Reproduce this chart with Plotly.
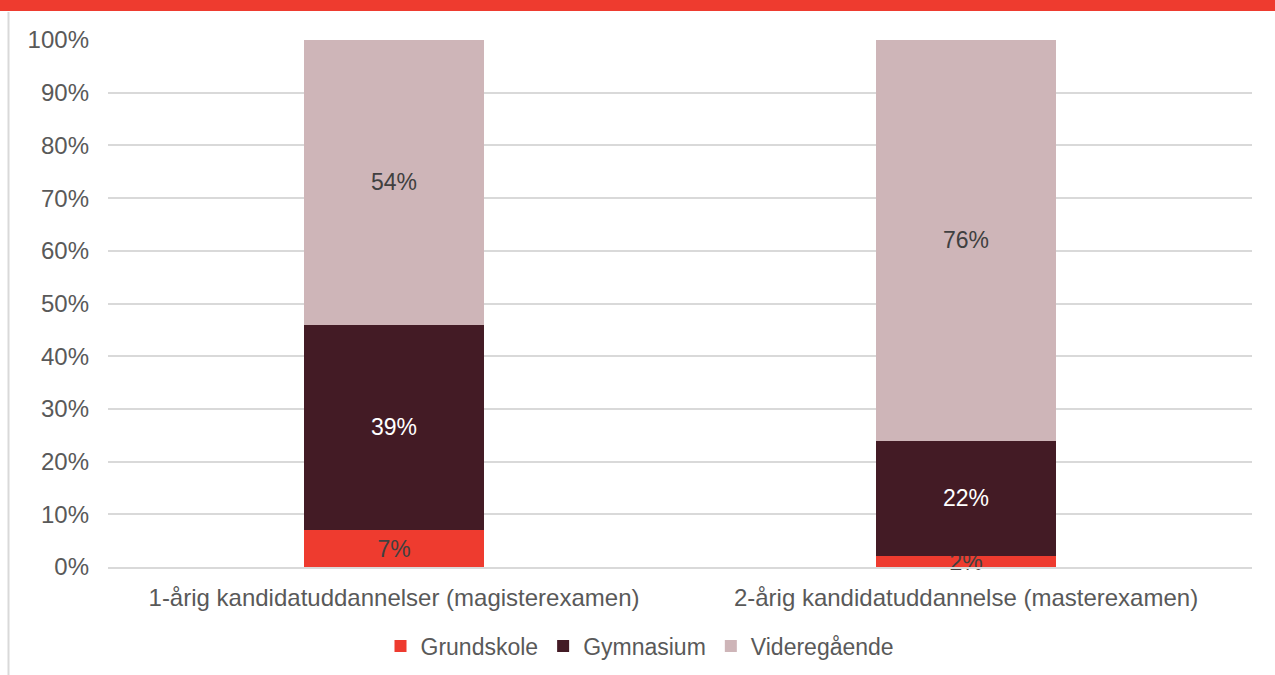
import plotly.graph_objects as go

categories = ["1-årig kandidatuddannelser (magisterexamen)", "2-årig kandidatuddannelse (masterexamen)"]
grundskole = [7, 2]
gymnasium = [39, 22]
videregaaende = [54, 76]

RED = "#EE3B2F"
DARK = "#431B25"
PINK = "#CEB5B8"
GRID = "#D9D9D9"
TXT = "#595959"
FONT = "Liberation Sans, Arial, sans-serif"

# pixel layout (1275x675)
W, H = 1275, 675
ml, mr, mt, mb = 108, 23, 40, 108
pw, ph = W - ml - mr, H - mt - mb

fig = go.Figure()
for name, vals, col, tcol in [
    ("Grundskole", grundskole, RED, "#404040"),
    ("Gymnasium", gymnasium, DARK, "#FFFFFF"),
    ("Videregående", videregaaende, PINK, "#404040"),
]:
    fig.add_trace(go.Bar(
        x=categories, y=vals, name=name, marker=dict(color=col, line=dict(width=0)),
        text=[f"{v}%" for v in vals], textposition="inside", insidetextanchor="middle",
        textangle=0, constraintext="none", cliponaxis=False,
        insidetextfont=dict(color=tcol, size=23, family=FONT),
        hoverinfo="name+y",
    ))

def px_x(p):
    return (p - ml) / pw

def px_y(p):
    return (H - mb - p) / ph

fig.update_layout(
    width=W, height=H, barmode="stack", bargap=0.687,
    margin=dict(l=ml, r=mr, t=mt, b=mb, autoexpand=False),
    paper_bgcolor="white", plot_bgcolor="white",
    font=dict(family=FONT, size=24, color=TXT),
    legend=dict(orientation="h", x=px_x(640), xanchor="center", yref="container", y=1 - 646 / H,
                yanchor="middle", font=dict(size=23, color=TXT), traceorder="normal"),
    shapes=[
        dict(type="rect", xref="paper", yref="paper", x0=px_x(0), x1=px_x(W), y0=px_y(0), y1=px_y(11),
             fillcolor=RED, line=dict(width=0), layer="above"),
        dict(type="line", xref="paper", yref="paper", x0=px_x(8.5), x1=px_x(8.5), y0=px_y(12), y1=px_y(H),
             line=dict(color=GRID, width=2)),
    ],
)
fig.update_yaxes(range=[0, 100], dtick=10, ticksuffix="%", gridcolor=GRID, gridwidth=2,
                 zeroline=False, showline=False, ticks="", ticklabelstandoff=18,
                 tickfont=dict(size=24, color=TXT))
fig.update_xaxes(showline=True, linecolor=GRID, linewidth=2, ticks="", ticklabelstandoff=8,
                 tickfont=dict(size=24, color=TXT))

fig.write_html("out.html", config={"displayModeBar": False},
               post_script="document.body.style.margin='0';")
